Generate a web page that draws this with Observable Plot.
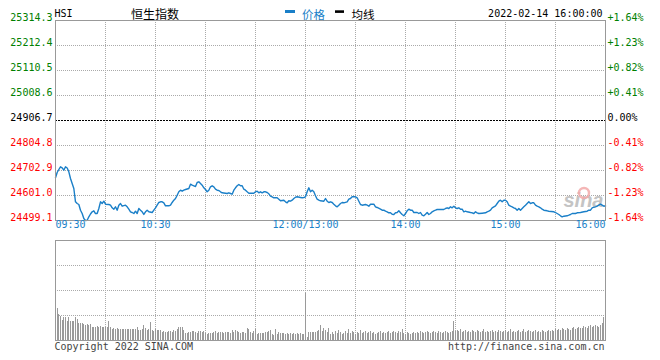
<!DOCTYPE html>
<html><head><meta charset="utf-8">
<script src="https://cdn.jsdelivr.net/npm/d3@7"></script>
<script src="https://cdn.jsdelivr.net/npm/@observablehq/plot@0.6"></script>
<style>
body{margin:0;background:#fff;}
#wrap{position:relative;width:660px;height:360px;overflow:hidden;background:#fff;}
#wrap svg{position:absolute;left:0;}
</style></head><body><div id="wrap"></div>
<script>
// ---- data ----
const prevClose = 24906.7;
const priceTicks = [25314.3, 25212.4, 25110.5, 25008.6, 24906.7, 24804.8, 24702.9, 24601.0, 24499.1];
const pctLabels = ["+1.64%", "+1.23%", "+0.82%", "+0.41%", "0.00%", "-0.41%", "-0.82%", "-1.23%", "-1.64%"];
const gridMinutes = [30, 60, 90, 120, 150, 180, 210, 240, 270, 300];
const timeLabels = ["09:30", "10:30", "12:00/13:00", "14:00", "15:00", "16:00"];
const timeLabelMinutes = [0, 60, 150, 210, 270, 330];
const volGrid = [25, 50, 75];
// [minutes since 09:30 (lunch break removed), index value]
const priceSeries = [[0,24673.2],[1,24694.8],[2,24707.0],[3,24718.0],[4,24713.9],[5,24704.1],[6,24718.0],[7,24713.1],[8,24697.6],[9,24670.3],[10,24649.9],[11,24629.5],[12,24575.3],[13,24568.4],[14,24564.3],[15,24541.1],[16,24527.6],[17,24507.3],[18,24499.1],[19,24500.3],[20,24514.2],[21,24525.6],[22,24534.6],[23,24538.6],[24,24527.6],[25,24527.6],[26,24548.0],[27,24575.3],[28,24568.4],[29,24577.8],[30,24565.5],[32,24564.3],[33,24561.5],[34,24550.9],[35,24545.2],[36,24554.9],[37,24541.1],[38,24561.5],[39,24568.4],[40,24557.4],[42,24561.5],[43,24554.9],[44,24545.2],[45,24534.6],[46,24531.7],[47,24527.6],[48,24537.0],[49,24527.6],[50,24548.0],[51,24541.1],[52,24534.6],[53,24523.6],[54,24534.6],[55,24541.1],[56,24534.6],[58,24531.7],[59,24541.1],[60,24550.9],[61,24561.5],[62,24572.5],[63,24575.3],[64,24575.3],[65,24571.2],[66,24559.0],[68,24559.0],[69,24561.5],[70,24572.5],[71,24581.8],[72,24588.8],[73,24602.2],[74,24616.1],[75,24622.6],[76,24618.5],[77,24622.6],[78,24625.5],[80,24629.5],[81,24647.1],[82,24643.0],[83,24640.5],[84,24637.7],[85,24654.0],[86,24656.8],[87,24649.9],[88,24643.0],[89,24632.4],[90,24625.5],[91,24616.1],[92,24622.6],[93,24636.5],[94,24640.5],[95,24636.5],[96,24626.7],[97,24622.6],[98,24621.4],[99,24616.1],[100,24612.0],[102,24610.4],[103,24609.2],[104,24612.0],[105,24609.2],[106,24606.3],[107,24622.6],[108,24632.4],[109,24640.5],[110,24645.8],[111,24640.5],[112,24640.5],[113,24626.7],[114,24622.6],[115,24616.1],[116,24610.4],[118,24610.4],[119,24610.4],[120,24616.1],[121,24618.5],[122,24612.0],[123,24616.1],[124,24612.0],[125,24616.1],[126,24616.1],[127,24613.2],[128,24607.9],[129,24598.2],[130,24595.7],[131,24591.6],[133,24591.6],[134,24585.9],[135,24579.4],[136,24580.6],[137,24581.8],[138,24575.3],[139,24571.2],[140,24579.4],[141,24577.8],[142,24581.8],[143,24588.8],[144,24594.1],[145,24595.7],[147,24592.9],[148,24591.6],[149,24592.9],[150,24595.7],[151,24616.1],[152,24632.4],[153,24616.1],[154,24622.6],[155,24616.1],[156,24599.8],[157,24585.9],[158,24581.8],[159,24579.4],[161,24577.8],[162,24588.8],[163,24577.8],[164,24572.5],[165,24575.3],[166,24572.5],[167,24565.5],[168,24559.0],[169,24554.9],[170,24561.5],[171,24568.4],[172,24572.5],[173,24571.2],[175,24575.3],[176,24585.9],[177,24588.8],[178,24595.7],[180,24595.7],[181,24591.6],[182,24577.8],[183,24564.3],[184,24561.5],[186,24564.3],[187,24561.5],[188,24557.4],[189,24565.5],[191,24565.5],[192,24554.9],[193,24552.1],[195,24545.2],[196,24541.1],[197,24541.1],[198,24537.0],[199,24534.6],[200,24530.5],[201,24530.5],[202,24524.8],[203,24523.6],[204,24530.5],[205,24531.7],[206,24538.6],[207,24530.5],[208,24523.6],[209,24518.3],[210,24527.6],[211,24538.6],[212,24545.2],[213,24541.1],[214,24541.1],[215,24531.7],[217,24531.7],[218,24527.6],[219,24531.7],[220,24520.7],[221,24518.3],[222,24524.8],[223,24531.7],[224,24523.6],[225,24527.6],[226,24534.6],[227,24538.6],[228,24541.1],[229,24543.9],[233,24543.9],[234,24548.0],[235,24550.9],[236,24548.0],[237,24554.9],[238,24550.9],[239,24557.4],[240,24550.9],[241,24548.0],[242,24550.9],[243,24545.2],[244,24545.2],[245,24534.6],[246,24537.0],[247,24534.6],[249,24531.7],[250,24530.5],[251,24527.6],[252,24534.6],[253,24530.5],[254,24527.6],[256,24528.9],[258,24530.5],[259,24534.6],[260,24537.0],[261,24541.1],[262,24550.9],[264,24559.0],[265,24568.4],[266,24577.8],[267,24581.8],[268,24575.3],[269,24581.8],[270,24581.8],[271,24575.3],[272,24561.5],[273,24557.4],[274,24554.9],[275,24550.9],[276,24548.0],[277,24541.1],[278,24548.0],[279,24541.1],[280,24548.0],[281,24554.9],[282,24561.5],[283,24568.4],[284,24575.3],[285,24568.4],[286,24571.2],[287,24571.2],[288,24561.5],[289,24557.4],[290,24554.9],[291,24550.9],[292,24545.2],[293,24541.1],[295,24538.6],[296,24537.0],[299,24534.6],[300,24531.7],[301,24527.6],[302,24523.6],[303,24518.3],[304,24514.2],[305,24516.6],[307,24518.3],[308,24520.7],[309,24523.6],[310,24527.6],[312,24527.6],[313,24530.5],[315,24531.7],[317,24534.6],[319,24537.0],[320,24541.1],[321,24541.1],[322,24550.9],[323,24553.3],[324,24554.9],[325,24557.4],[326,24561.5],[327,24565.5],[328,24561.5],[329,24557.4],[330,24559.0]];
// per-minute volume (relative units), minute 0..330
const volume = [
30,32,26,24,20,23,23,19,23,19,
19,19,23,21,17,17,17,16,15,16,
15,16,13,13,13,14,13,14,13,13,
13,13,19,13,11,12,11,12,11,11,
11,11,11,11,11,11,11,11,11,13,
10,10,11,15,12,10,11,18,10,9,
11,10,10,10,8,9,8,8,9,9,
8,10,9,11,13,13,13,10,7,7,
8,8,9,9,8,7,9,9,8,9,
7,6,7,7,7,8,9,7,8,8,
8,7,8,8,8,7,10,8,10,9,
8,7,8,8,7,12,11,8,7,9,
11,6,7,7,7,7,8,8,9,10,
6,5,11,6,8,7,7,7,6,7,
6,7,6,7,6,7,6,7,6,6,
47,3,8,8,8,8,8,9,10,15,
9,12,10,8,12,
6,8,6,9,7,10,8,
6,7,9,7,11,
7,9,8,6,8,7,
10,
7,8,9,7,8,9,7,
8,6,7,8,9,7,8,7,8,9,
7,8,9,8,7,9,8,
11,
7,6,8,7,6,7,8,
7,8,7,9,8,7,8,9,8,7,
8,9,8,7,9,8,7,8,9,8,7,8,9,
19,
9,10,9,11,8,9,10,8,9,8,10,
9,8,10,9,8,9,11,8,9,8,
9,10,8,9,8,10,9,8,9,10,8,9,
11,
8,9,8,9,10,8,9,11,8,9,10,9,
8,9,10,8,9,8,10,9,8,9,10,9,
10,9,11,10,11,10,12,11,
10,12,11,10,12,13,11,12,13,12,
12,14,13,12,14,15,13,14,15,14,
13,15,17,23,14];

// ---- drawing ----
const mono = '"DejaVu Sans Mono", monospace';
const cjk = '"Noto Sans CJK SC", sans-serif';
const blue = "#1a7fc8";
const tickColor = i => i < 4 ? "#008000" : i === 4 ? "#000000" : "#ff0000";
const tickData = priceTicks.map((v, i) => ({v, pct: pctLabels[i], i, c: tickColor(i)}));
const priceData = priceSeries.map(([m, p]) => ({m, p}));
const volData = volume.map((v, m) => ({m, v}));
const tl = timeLabels.map((t, i) => ({t, m: timeLabelMinutes[i]}));

const p1 = Plot.plot({
  width: 660, height: 236,
  marginLeft: 55, marginRight: 55, marginTop: 20, marginBottom: 16,
  x: {domain: [0, 330], axis: null},
  y: {domain: [24499.1, 25314.3], axis: null},
  color: {type: "identity"},
  style: {fontFamily: mono, fontSize: "10px", background: "transparent", overflow: "visible"},
  marks: [
    Plot.ruleX(gridMinutes, {stroke: "#aaa", strokeDasharray: "1,1", shapeRendering: "crispEdges"}),
    Plot.ruleY(tickData.filter(d => d.i > 0 && d.i < 8 && d.i !== 4), {y: "v", stroke: "#aaa", strokeDasharray: "1,1", shapeRendering: "crispEdges"}),
    Plot.ruleY([prevClose], {stroke: "#000", strokeDasharray: "2,1", shapeRendering: "crispEdges"}),
    Plot.text(["sina"], {frameAnchor: "bottom-right", textAnchor: "end", dx: -2, dy: -14, fill: "#c4c4c4", fontSize: 20, fontWeight: "bold", fontStyle: "italic", fontFamily: "Liberation Sans, sans-serif"}),
    Plot.line(priceData, {x: "m", y: "p", stroke: blue, strokeWidth: 1.4}),
    Plot.frame({stroke: "#999", shapeRendering: "crispEdges"}),
    Plot.text(tickData, {y: "v", text: d => d.v.toFixed(1), frameAnchor: "left", textAnchor: "end", dx: -3, dy: -2.5, fill: "c"}),
    Plot.text(tickData, {y: "v", text: "pct", frameAnchor: "right", textAnchor: "start", dx: 2, dy: -2.5, fill: "c"}),
    Plot.text(tl.slice(0, 1), {x: "m", text: "t", frameAnchor: "bottom", textAnchor: "start", dy: 7.5, fill: blue}),
    Plot.text(tl.slice(1, 5), {x: "m", text: "t", frameAnchor: "bottom", textAnchor: "middle", dy: 7.5, fill: blue}),
    Plot.text(tl.slice(5), {x: "m", text: "t", frameAnchor: "bottom", textAnchor: "end", dy: 7.5, fill: blue}),
    Plot.text(["HSI"], {frameAnchor: "top-left", textAnchor: "start", dx: -1, dy: -10.7, fill: "#000"}),
    Plot.text(["恒生指数"], {frameAnchor: "top-left", textAnchor: "start", dx: 75.5, dy: -9.8, fill: "#000", fontSize: 12, fontFamily: cjk}),
    Plot.text(["价格"], {frameAnchor: "top-left", textAnchor: "start", dx: 246.5, dy: -9.8, fill: blue, fontSize: 11.5, fontFamily: cjk}),
    Plot.text(["均线"], {frameAnchor: "top-left", textAnchor: "start", dx: 296, dy: -9.8, fill: "#000", fontSize: 11.5, fontFamily: cjk}),
    Plot.text(["2022-02-14 16:00:00"], {frameAnchor: "top-right", textAnchor: "end", dx: -3, dy: -10.7, fill: "#000"})
  ]
});
p1.style.top = "0px";
// legend swatches and logo eye
const s1 = d3.select(p1);
s1.append("rect").attr("x", 285).attr("y", 10).attr("width", 10).attr("height", 3).attr("fill", blue);
s1.append("rect").attr("x", 335).attr("y", 10.3).attr("width", 9).attr("height", 2.6).attr("fill", "#000");
s1.append("circle").attr("cx", 584).attr("cy", 193).attr("r", 5).attr("fill", "none").attr("stroke", "#f2a9a9").attr("stroke-width", 2.4).attr("opacity", 0.85);

const p2 = Plot.plot({
  width: 660, height: 130,
  marginLeft: 55, marginRight: 55, marginTop: 10, marginBottom: 20,
  x: {domain: [0, 330], axis: null},
  y: {domain: [0, 100], axis: null},
  style: {fontFamily: mono, fontSize: "10px", background: "transparent", overflow: "visible"},
  marks: [
    Plot.ruleX(gridMinutes, {stroke: "#aaa", strokeDasharray: "1,1", shapeRendering: "crispEdges"}),
    Plot.ruleY(volGrid, {stroke: "#aaa", strokeDasharray: "1,1", shapeRendering: "crispEdges"}),
    Plot.ruleX(volData, {x: "m", y1: 0, y2: "v", stroke: "#9a9a9a", strokeWidth: 1, shapeRendering: "crispEdges"}),
    Plot.frame({stroke: "#999", shapeRendering: "crispEdges"}),
    Plot.text(["Copyright 2022 SINA.COM"], {frameAnchor: "bottom-left", textAnchor: "start", dx: -1, dy: 9.6, fill: "#444"}),
    Plot.text(["http://finance.sina.com.cn"], {frameAnchor: "bottom-right", textAnchor: "end", dx: -1, dy: 9.6, fill: "#444"})
  ]
});
p2.style.top = "230px";
const wrap = document.getElementById("wrap");
wrap.appendChild(p1);
wrap.appendChild(p2);
</script>
</body></html>
